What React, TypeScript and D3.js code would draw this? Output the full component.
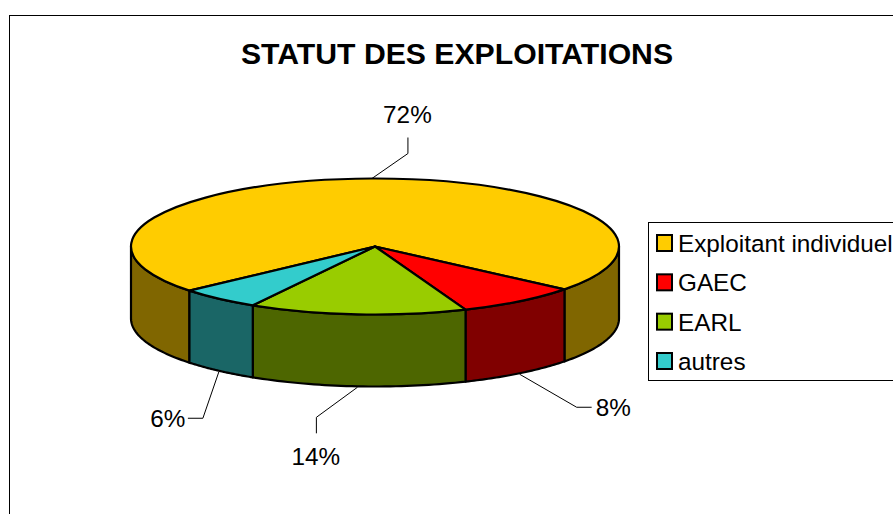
import React from 'react';
import * as d3 from 'd3';

const categories = ['Exploitant individuel', 'GAEC', 'EARL', 'autres'];
// slice sizes as measured on the drawn pie, printed labels as shown on the chart
const shares = [72.1, 8.1, 14.4, 5.4];
const percentLabels = ['72%', '8%', '14%', '6%'];
const colors = ['#FFCC00', '#FF0000', '#99CC00', '#33CCCC'];

const width = 893;
const height = 514;
const cx = 375;
const cy = 246.5;
const rx = 244;
const ry = 68;
const depth = 72;
const rotation = (-130.5 * Math.PI) / 180;

// leader elbows and label spots, relative to where the leader leaves the pie
const leaders = [
  { elbow: [36, -25], end: [36, -41], label: [35.5, -55.5], anchor: 'middle' },
  { elbow: [57, 33], end: [72, 33], label: [76, 42], anchor: 'start' },
  { elbow: [-41, 30], end: [-41, 46], label: [-41.5, 77.5], anchor: 'middle' },
  { elbow: [-16, 46.5], end: [-31, 46.5], label: [-33.5, 55], anchor: 'end' },
];

const half = (c: string) => {
  const r = d3.rgb(c);
  return d3.rgb(r.r / 2, r.g / 2, r.b / 2).formatHex();
};

const onRim = (a: number, dy = 0): [number, number] => [
  cx + rx * Math.sin(a),
  cy - ry * Math.cos(a) + dy,
];

// front wall of the pie between two angles
const wallPath = (a0: number, a1: number) => {
  const n = 40;
  const top = d3.range(n + 1).map((i) => onRim(a0 + ((a1 - a0) * i) / n));
  const bottom = top.map((p) => [p[0], p[1] + depth] as [number, number]).reverse();
  return d3.line()([...top, ...bottom]) + 'Z';
};

const frontSpans = (a0: number, a1: number) => {
  const spans: [number, number][] = [];
  [-2 * Math.PI, 0, 2 * Math.PI].forEach((k) => {
    const lo = Math.max(a0, Math.PI / 2 + k);
    const hi = Math.min(a1, (3 * Math.PI) / 2 + k);
    if (hi > lo) spans.push([lo, hi]);
  });
  return spans;
};

export default function App() {
  const slices = d3
    .pie<number>()
    .sort(null)
    .startAngle(rotation)
    .endAngle(rotation + 2 * Math.PI)(shares);

  const arc = d3.arc<d3.PieArcDatum<number>>().innerRadius(0).outerRadius(rx);
  const legendY = d3.scalePoint<string>().domain(categories).range([243, 361]);

  return (
    <svg
      width={width}
      height={height}
      style={{ position: 'absolute', left: 0, top: 0, background: '#fff' }}
      fontFamily="'Liberation Sans', Arial, sans-serif"
    >
      <rect x={9.5} y={15.5} width={width} height={height} fill="#fff" stroke="#000" />
      <text x={457} y={64} textAnchor="middle" fontSize={30.2} fontWeight="bold">
        STATUT DES EXPLOITATIONS
      </text>

      {/* walls */}
      {slices.map((s, i) =>
        frontSpans(s.startAngle, s.endAngle).map(([a, b], j) => (
          <path
            key={`${i}-${j}`}
            d={wallPath(a, b)}
            fill={half(colors[i])}
            stroke="#000"
            strokeWidth={2.2}
            strokeLinejoin="round"
          />
        ))
      )}

      {/* top face */}
      <g transform={`translate(${cx},${cy}) scale(1,${ry / rx})`}>
        {slices.map((s, i) => (
          <path
            key={i}
            d={arc(s) as string}
            fill={colors[i]}
            stroke="#000"
            strokeWidth={2.2}
            strokeLinejoin="round"
            vectorEffect="non-scaling-stroke"
          />
        ))}
      </g>

      {/* leaders and percentages */}
      {slices.map((s, i) => {
        const mid = (s.startAngle + s.endAngle) / 2;
        const front = frontSpans(mid, mid + 1e-6).length > 0;
        const [x, y] = onRim(mid, front ? depth + 1 : 0);
        const l = leaders[i];
        return (
          <g key={i}>
            <path
              d={d3.line()([
                [x, y],
                [x + l.elbow[0], y + l.elbow[1]],
                [x + l.end[0], y + l.end[1]],
              ]) as string}
              fill="none"
              stroke="#000"
            />
            <text
              x={x + l.label[0]}
              y={y + l.label[1]}
              textAnchor={l.anchor as any}
              fontSize={24.3}
            >
              {percentLabels[i]}
            </text>
          </g>
        );
      })}

      {/* legend */}
      <rect x={648.5} y={222.5} width={width} height={158} fill="#fff" stroke="#000" />
      {categories.map((c, i) => (
        <g key={c}>
          <rect
            x={657}
            y={(legendY(c) as number) - 8}
            width={15}
            height={16}
            fill={colors[i]}
            stroke="#000"
            strokeWidth={2}
          />
          <text x={678} y={(legendY(c) as number) + 9} fontSize={24.3}>
            {c}
          </text>
        </g>
      ))}
    </svg>
  );
}
